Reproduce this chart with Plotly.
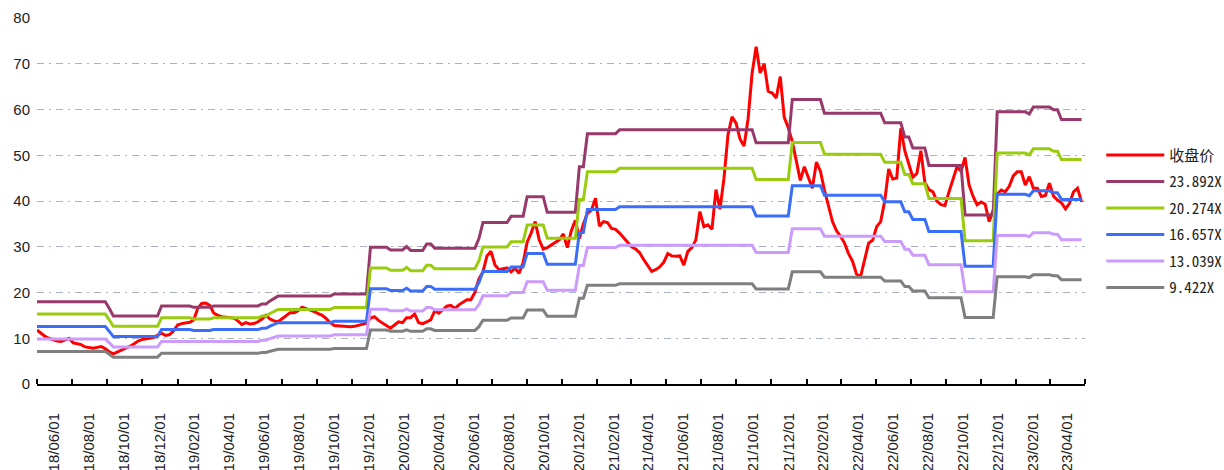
import pandas as pd
import plotly.graph_objects as go

# Weekly closing price
close = [
    11.8, 11.0, 10.4, 10.0, 9.7, 9.4, 9.3, 9.6, 10.0, 9.0,
    8.8, 8.6, 8.1, 7.9, 7.8, 8.0, 8.2, 7.7, 7.0, 6.6,
    7.0, 7.4, 7.7, 8.2, 8.7, 9.3, 9.7, 9.8, 10.0, 10.2,
    10.6, 11.1, 10.6, 10.8, 11.6, 12.9, 13.2, 13.3, 13.5, 14.0,
    16.5, 17.6, 17.7, 17.2, 15.5, 15.0, 14.7, 14.6, 14.5, 14.4,
    13.8, 13.0, 13.4, 13.1, 13.2, 13.6, 14.2, 15.0, 14.2, 13.8,
    13.6, 14.3, 14.9, 15.6, 15.6, 16.0, 16.8, 16.5, 16.1, 15.8,
    15.4, 15.0, 14.3, 13.4, 12.8, 12.7, 12.6, 12.5, 12.5, 12.6,
    12.8, 13.0, 13.3, 14.4, 14.7, 13.9, 13.3, 12.8, 12.2, 12.9,
    13.6, 13.4, 14.5, 14.5, 15.3, 13.4, 13.2, 13.6, 14.0, 16.0,
    15.5, 16.2, 17.0, 17.2, 16.5, 17.3, 17.8, 18.4, 18.4, 20.0,
    23.0, 24.5, 28.0, 29.0, 26.0, 25.0, 25.2, 25.4, 24.5, 25.3,
    24.2, 26.5, 31.0, 33.0, 35.5, 31.5, 29.5, 29.8, 30.4, 31.0,
    31.5, 32.8, 29.8, 33.5, 35.8, 31.8, 35.0, 37.3, 38.0, 40.6,
    34.5, 35.5, 35.3, 34.0, 33.8, 33.0, 32.0, 31.0, 30.0, 29.5,
    28.7, 27.2, 25.8, 24.6, 25.0, 25.6, 26.6, 28.5, 28.0, 27.9,
    28.0, 26.0, 29.0, 29.8, 31.5, 37.7, 34.4, 34.8, 33.8, 42.5,
    38.2, 45.0, 54.5, 58.4, 57.0, 53.5, 52.0, 58.0, 68.0, 73.7,
    68.0, 70.0, 64.0, 63.6, 62.5, 67.2, 58.3, 56.0, 53.0, 49.0,
    44.5, 47.5, 45.2, 42.8, 48.5, 46.5, 42.4, 39.2, 35.5, 33.5,
    32.3, 30.8, 28.5, 26.8, 24.0, 23.5, 27.5, 30.8, 31.4, 34.4,
    35.5, 40.0, 47.0, 44.8, 45.0, 55.9, 51.0, 48.0, 45.2, 46.0,
    51.0, 44.0, 42.5, 42.0, 40.0, 39.2, 39.0, 42.0, 44.6, 47.5,
    46.5, 49.5, 43.5, 41.0, 39.2, 39.8, 39.3, 35.5, 38.0, 41.5,
    42.4, 42.0, 43.2, 45.5, 46.4, 46.4, 43.5, 45.3, 42.8, 42.8,
    41.0, 41.2, 43.9, 41.1, 40.2, 39.6, 38.3, 39.5, 42.0, 42.8,
    39.8,
]

# Weekly trailing EPS (held constant between updates)
eps = (
    [0.7534] * 18 + [0.69] + [0.622] * 12 + [0.714] * 8 + [0.7015] * 5
    + [0.714] * 12 + [0.732] * 2 + [0.76] + [0.78] + [0.804] * 14
    + [0.8245] * 9 + [1.251] * 5 + [1.226] * 4 + [1.257] + [1.222] * 4
    + [1.281] * 2 + [1.243] * 11 + [1.33] + [1.4775] * 7 + [1.534] * 4
    + [1.714] * 5 + [1.571] * 8 + [1.988] * 2 + [2.289] * 8 + [2.325] * 34
    + [2.206] * 9 + [2.603] * 8 + [2.478] * 15 + [2.39] * 5 + [2.26] * 2
    + [2.16] * 4 + [2.00] * 9 + [1.545] * 8 + [2.49] * 8 + [2.47]
    + [2.535] * 5 + [2.51] * 2 + [2.42] * 6
)

pe_multiples = [23.892, 20.274, 16.657, 13.039, 9.422]
band_labels = ["23.892X", "20.274X", "16.657X", "13.039X", "9.422X"]
band_colors = ["#973A6B", "#99CC0F", "#3B6EF8", "#CB9CFB", "#7F7F7F"]

# Two-month axis periods; each label sits in the middle of its period
tick_labels = [
    "18/06/01", "18/08/01", "18/10/01", "18/12/01",
    "19/02/01", "19/04/01", "19/06/01", "19/08/01", "19/10/01", "19/12/01",
    "20/02/01", "20/04/01", "20/06/01", "20/08/01", "20/10/01", "20/12/01",
    "21/02/01", "21/04/01", "21/06/01", "21/08/01", "21/10/01", "21/12/01",
    "22/02/01", "22/04/01", "22/06/01", "22/08/01", "22/10/01", "22/12/01",
    "23/02/01", "23/04/01",
]

dates = pd.date_range("2018-06-01", periods=len(close), freq="7D")

period_starts = [pd.to_datetime("20" + t, format="%Y/%m/%d") for t in tick_labels]
period_ends = period_starts[1:] + [period_starts[-1] + pd.DateOffset(months=2)]
label_pos = [s + (e - s) / 2 for s, e in zip(period_starts, period_ends)]

fig = go.Figure()

fig.add_trace(go.Scatter(
    x=dates, y=close, mode="lines", name="收盘价",
    line=dict(color="#FF0000", width=3), legendgroup="close",
))

for mult, label, color in zip(pe_multiples, band_labels, band_colors):
    fig.add_trace(go.Scatter(
        x=dates, y=[mult * e for e in eps], mode="lines", name=label,
        line=dict(color=color, width=3), legendgroup=label,
    ))

fig.update_layout(
    width=1224, height=470,
    margin=dict(l=37, r=139, t=18, b=86, autoexpand=False),
    paper_bgcolor="white", plot_bgcolor="white",
    font=dict(family="Liberation Sans, Arial, sans-serif", size=15, color="#222222"),
    showlegend=True,
    legend=dict(
        x=1.0155, xanchor="left", y=0.445, yanchor="middle",
        font=dict(family="Noto Sans Mono CJK SC, Noto Sans CJK SC, monospace",
                  size=15, color="#222222"),
        tracegroupgap=4, itemwidth=58, bgcolor="rgba(0,0,0,0)",
    ),
    xaxis=dict(
        type="date", range=[period_starts[0], period_ends[-1]],
        tickmode="array", tickvals=label_pos, ticktext=tick_labels,
        tickangle=-90, ticks="", automargin=False,
        minor=dict(ticks="inside", ticklen=5, tickwidth=1.5, tickcolor="#000000",
                   tickmode="array", tickvals=period_starts + [period_ends[-1]],
                   showgrid=False),
        showline=True, linecolor="#000000", linewidth=2,
        showgrid=False, zeroline=False, ticklabelstandoff=21,
        tickfont=dict(size=15),
    ),
    yaxis=dict(
        range=[0, 80], dtick=10, tick0=0, automargin=False,
        showgrid=True, gridcolor="#AAB1C2", gridwidth=1.3,
        griddash="7px,5px,2px,5px",
        showline=False, zeroline=False, ticks="",
        ticklabelstandoff=6, tickfont=dict(size=15),
    ),
)

fig.write_html("out.html")
